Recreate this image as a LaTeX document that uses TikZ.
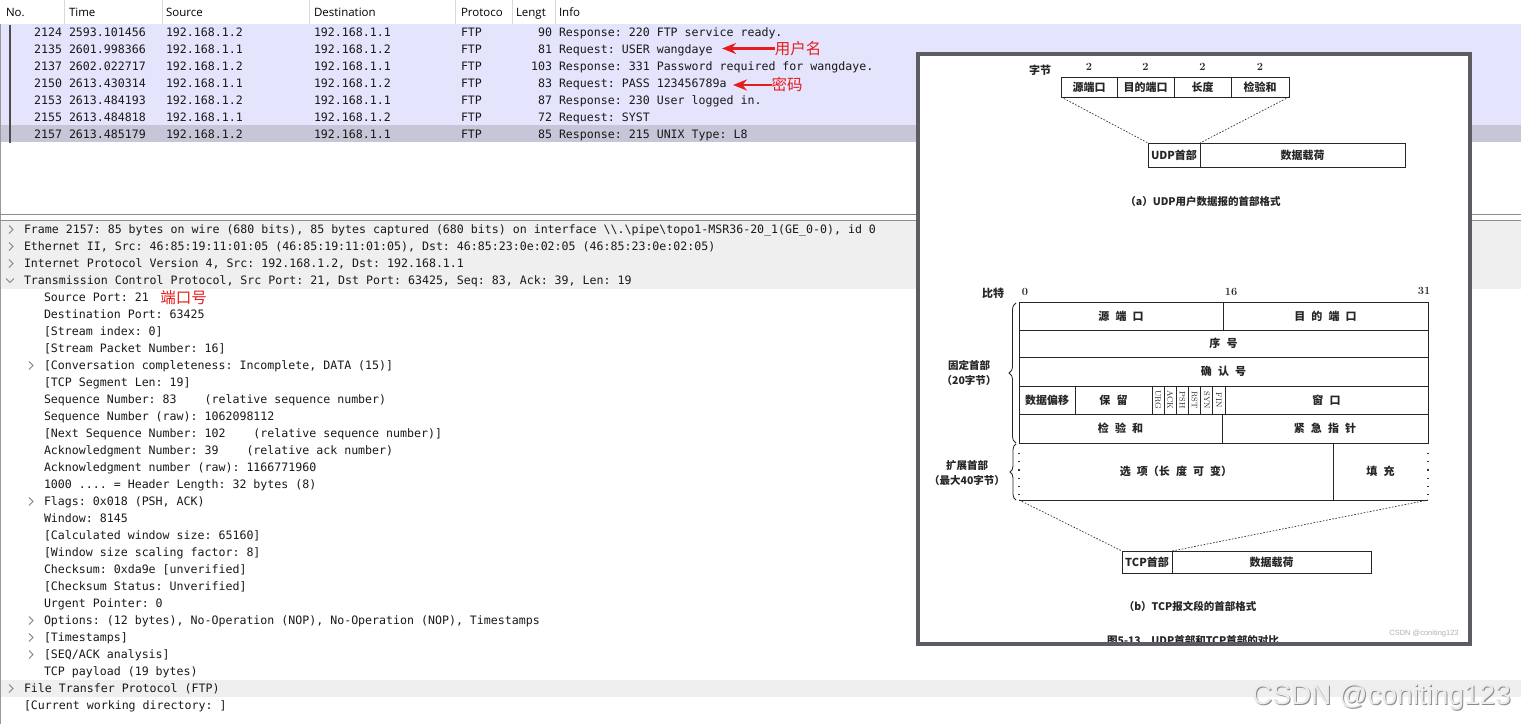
\documentclass[tikz,border=0pt]{standalone}
\usepackage{fontspec}
\usetikzlibrary{arrows.meta,decorations.pathreplacing}
\newfontfamily\monof{DejaVu Sans Mono}
\newfontfamily\uif{Open Sans}
\newfontfamily\cjk{Noto Sans CJK SC}
\newfontfamily\wmf{Liberation Sans}
\definecolor{rowbg}{RGB}{228,228,252}
\definecolor{selbg}{RGB}{198,198,216}
\definecolor{bandbg}{RGB}{239,239,239}
\definecolor{redc}{RGB}{232,28,28}
\definecolor{chevc}{RGB}{130,130,130}
\definecolor{insetc}{RGB}{92,92,98}
\definecolor{txt}{RGB}{25,25,25}
\frenchspacing
\newcommand\gp{\hspace{0.55em}}
\newcommand\dline[4]{\node[mono,name=#1] at (#2,{233.5+17*#3}) {#4};}
\newcommand\chevR[2]{\draw[chev] (#1,{229.5+17*#2-4}) -- ++(4,4) -- ++(-4,4);}
\newcommand\chevD[2]{\draw[chev] (#1,{229.5+17*#2-2}) -- ++(4,4) -- ++(4,-4);}
\begin{document}
\begin{tikzpicture}[x=1pt,y=-1pt,every node/.style={inner sep=0pt,outer sep=0pt},
  mono/.style={font=\monof\fontsize{11.6}{13}\selectfont\frenchspacing,text=txt,anchor=base west},
  monoR/.style={mono,anchor=base east},
  hdr/.style={font=\uif\fontsize{11.5}{13}\selectfont,text=black,anchor=base west},
  redlbl/.style={font=\cjk\fontsize{15.5}{17}\selectfont,text=redc},
  redarrow/.style={draw=redc,line width=2.6pt,-{Stealth[length=14pt,width=11pt]}},
  chev/.style={draw=chevc,line width=0.9pt},
  cell/.style={draw=black!85,line width=0.8pt,font=\cjk\bfseries\fontsize{11}{12}\selectfont,text=black!85},
  bare/.style={font=\cjk\bfseries\fontsize{11}{12}\selectfont,text=black!85},
  capt/.style={font=\cjk\bfseries\fontsize{10.5}{12}\selectfont,text=black!85},
  num/.style={font=\bfseries\fontsize{11}{12}\selectfont,text=black!85},
  flag/.style={draw=black!85,line width=0.8pt,font=\fontsize{8}{8}\selectfont,text=black!85,minimum width=12.17pt,minimum height=28pt},
  dashln/.style={draw=black!80,line width=0.7pt,dash pattern=on 1.6pt off 1.6pt},
  dotln/.style={draw=black!80,line width=1.2pt,dash pattern=on 1.2pt off 7pt}]
\useasboundingbox (0,0) rectangle (1521,724);
\fill[white] (0,0) rectangle (1521,724);
% ---------- packet list ----------
\fill[rowbg] (0,24) rectangle (1521,125);
\fill[selbg] (0,125) rectangle (1521,142);
\foreach \xx in {64,162,309,455,512,555} \draw[black!15] (\xx,0) -- (\xx,24);
\node[hdr] (hno) at (6,16.5) {No.};
\node[hdr] (htime) at (69,16.5) {Time};
\node[hdr] (hsrc) at (166,16.5) {Source};
\node[hdr] (hdst) at (314,16.5) {Destination};
\node[hdr] (hproto) at (461,16.5) {Protoco};
\node[hdr] (hlen) at (516,16.5) {Lengt};
\node[hdr] (hinfo) at (559,16.5) {Info};
\draw[black!40,line width=1pt] (0.5,24) -- (0.5,724);
\draw[black!70,line width=1.3pt] (10,25) -- (10,143);
\foreach \i/\no/\tm/\src/\dst/\len/\info in {
 0/2124/2593.101456/192.168.1.2/192.168.1.1/90/Response: 220 FTP service ready.,
 1/2135/2601.998366/192.168.1.1/192.168.1.2/81/Request: USER wangdaye,
 2/2137/2602.022717/192.168.1.2/192.168.1.1/103/Response: 331 Password required for wangdaye.,
 3/2150/2613.430314/192.168.1.1/192.168.1.2/83/Request: PASS 123456789a,
 4/2153/2613.484193/192.168.1.2/192.168.1.1/87/Response: 230 User logged in.,
 5/2155/2613.484818/192.168.1.1/192.168.1.2/72/Request: SYST,
 6/2157/2613.485179/192.168.1.2/192.168.1.1/85/Response: 215 UNIX Type: L8}{
  \node[monoR,name=pno\i] at (62,{36.5+17*\i}) {\no};
  \node[mono,name=ptm\i] at (69,{36.5+17*\i}) {\tm};
  \node[mono,name=psrc\i] at (166,{36.5+17*\i}) {\src};
  \node[mono,name=pdst\i] at (314,{36.5+17*\i}) {\dst};
  \node[mono,name=ppr\i] at (461,{36.5+17*\i}) {FTP};
  \node[monoR,name=plen\i] at (552,{36.5+17*\i}) {\len};
  \node[mono,name=pinf\i] at (559,{36.5+17*\i}) {\info};
}
% red annotations
\node[redlbl] (ulbl) at (798,48.5) {用户名};
\node[redlbl] (plbl) at (787,85) {密码};
\coordinate (tipA) at (722,48.5);
\coordinate (tipB) at (733,85);
\draw[redarrow] (ulbl.west) -- (tipA);
\draw[redarrow] (plbl.west) -- (tipB);
% ---------- splitter ----------
\draw[black!45] (0,214) -- (1521,214);
\draw[black!45] (0,220) -- (1521,220);
% ---------- details ----------
\fill[bandbg] (1,221) rectangle (1521,289);
\fill[bandbg] (1,680) rectangle (1521,697);
\chevR{9}{0}\chevR{9}{1}\chevR{9}{2}\chevD{6}{3}
\chevR{29}{8}\chevR{29}{16}\chevR{29}{23}\chevR{29}{24}\chevR{29}{25}\chevR{9}{27}
\dline{d0}{24}{0}{Frame 2157: 85 bytes on wire (680 bits), 85 bytes captured (680 bits) on interface \textbackslash\textbackslash.\textbackslash pipe\textbackslash topo1-MSR36-20\_1(GE\_0-0), id 0}
\dline{d1}{24}{1}{Ethernet II, Src: 46:85:19:11:01:05 (46:85:19:11:01:05), Dst: 46:85:23:0e:02:05 (46:85:23:0e:02:05)}
\dline{d2}{24}{2}{Internet Protocol Version 4, Src: 192.168.1.2, Dst: 192.168.1.1}
\dline{d3}{24}{3}{Transmission Control Protocol, Src Port: 21, Dst Port: 63425, Seq: 83, Ack: 39, Len: 19}
\dline{d4}{44}{4}{Source Port: 21}
\dline{d5}{44}{5}{Destination Port: 63425}
\dline{d6}{44}{6}{[Stream index: 0]}
\dline{d7}{44}{7}{[Stream Packet Number: 16]}
\dline{d8}{44}{8}{[Conversation completeness: Incomplete, DATA (15)]}
\dline{d9}{44}{9}{[TCP Segment Len: 19]}
\dline{d10}{44}{10}{Sequence Number: 83~~~~(relative sequence number)}
\dline{d11}{44}{11}{Sequence Number (raw): 1062098112}
\dline{d12}{44}{12}{[Next Sequence Number: 102~~~~(relative sequence number)]}
\dline{d13}{44}{13}{Acknowledgment Number: 39~~~~(relative ack number)}
\dline{d14}{44}{14}{Acknowledgment number (raw): 1166771960}
\dline{d15}{44}{15}{1000 .... = Header Length: 32 bytes (8)}
\dline{d16}{44}{16}{Flags: 0x018 (PSH, ACK)}
\dline{d17}{44}{17}{Window: 8145}
\dline{d18}{44}{18}{[Calculated window size: 65160]}
\dline{d19}{44}{19}{[Window size scaling factor: 8]}
\dline{d20}{44}{20}{Checksum: 0xda9e [unverified]}
\dline{d21}{44}{21}{[Checksum Status: Unverified]}
\dline{d22}{44}{22}{Urgent Pointer: 0}
\dline{d23}{44}{23}{Options: (12 bytes), No-Operation (NOP), No-Operation (NOP), Timestamps}
\dline{d24}{44}{24}{[Timestamps]}
\dline{d25}{44}{25}{[SEQ/ACK analysis]}
\dline{d26}{44}{26}{TCP payload (19 bytes)}
\dline{d27}{24}{27}{File Transfer Protocol (FTP)}
\dline{d28}{24}{28}{[Current working directory: ]}
\node[redlbl] (portlbl) at (183.5,298) {端口号};
% ---------- big watermark ----------
\node[font=\wmf\fontsize{28}{30}\selectfont,text=black!45] (wm2) at (1382.5,698) {CSDN @coniting123};
\node[font=\wmf\fontsize{28}{30}\selectfont,text={rgb,255:red,236;green,236;blue,236}] (wm1) at (1381.5,697) {CSDN @coniting123};
% ---------- inset figure ----------
\fill[white] (918,54) rectangle (1470,644);
% UDP
\node[bare] (zj) at (1040,70) {字节};
\node[num] (n2a) at (1089,67) {2};
\node[num] (n2b) at (1145.5,67) {2};
\node[num] (n2c) at (1202.5,67) {2};
\node[num] (n2d) at (1260,67) {2};
\node[cell,minimum width=56pt,minimum height=20pt] (usrc) at (1089,87) {源端口};
\node[cell,minimum width=57pt,minimum height=20pt] (udst) at (1145.5,87) {目的端口};
\node[cell,minimum width=57pt,minimum height=20pt] (ulen) at (1202.5,87) {长度};
\node[cell,minimum width=58pt,minimum height=20pt] (uchk) at (1260,87) {检验和};
\node[cell,minimum width=52pt,minimum height=24pt] (udph) at (1174,155) {UDP首部};
\node[cell,minimum width=205pt,minimum height=24pt] (udpd) at (1302.5,155) {数据载荷};
\draw[dashln] (usrc.south west) -- (udph.north west);
\draw[dashln] (uchk.south east) -- (udph.north east);
\node[capt] (capa) at (1203,201) {（a）UDP用户数据报的首部格式};
% TCP
\node[bare] (bt) at (993,293) {比特};
\node[num] (b0) at (1025,292) {0};
\node[num] (b16) at (1231,292) {16};
\node[num] (b31) at (1424,291) {31};
\node[cell,minimum width=204pt,minimum height=28pt] (tsrc) at (1121,316) {源\gp 端\gp 口};
\node[cell,minimum width=205pt,minimum height=28pt] (tdst) at (1325.5,316) {目\gp 的\gp 端\gp 口};
\node[cell,minimum width=409pt,minimum height=27pt] (tseq) at (1223.5,343.5) {序\gp 号};
\node[cell,minimum width=409pt,minimum height=29pt] (tack) at (1223.5,371.5) {确\gp 认\gp 号};
\node[cell,minimum width=56pt,minimum height=28pt] (toff) at (1047,400) {数据偏移};
\node[cell,minimum width=77pt,minimum height=28pt] (tres) at (1113.5,400) {保\gp 留};
\foreach \j/\f in {0/URG,1/ACK,2/PSH,3/RST,4/SYN,5/FIN}
  \node[flag,name=fl\j] at ({1158.08+12.17*\j},400) {\rotatebox{-90}{\f}};
\node[cell,minimum width=203pt,minimum height=28pt] (twin) at (1326.5,400) {窗\gp 口};
\node[cell,minimum width=203pt,minimum height=29pt] (tcks) at (1120.5,428.5) {检\gp 验\gp 和};
\node[cell,minimum width=206pt,minimum height=29pt] (turg) at (1325,428.5) {紧\gp 急\gp 指\gp 针};
\node[bare,minimum width=314pt,minimum height=57pt] (topt) at (1176,471.5) {选\gp 项（长\gp 度\gp 可\gp 变）};
\node[bare,minimum width=95pt,minimum height=57pt] (tpad) at (1380.5,471.5) {填\gp 充};
\draw[black!85,line width=0.8pt] (topt.north west) -- (tpad.north east);
\draw[black!85,line width=0.8pt] (topt.south west) -- (tpad.south east);
\draw[black!85,line width=0.8pt] (topt.north east) -- (topt.south east);
\draw[dotln] ([yshift=-10pt]topt.north west) -- (topt.south west);
\draw[dotln] ([yshift=-10pt]tpad.north east) -- (tpad.south east);
\draw[black!85,line width=0.8pt,decorate,decoration={brace,amplitude=7pt}] (1016,443) -- (1016,303);
\draw[black!85,line width=0.8pt,decorate,decoration={brace,amplitude=6pt}] (1016,500) -- (1016,444);
\node[bare,align=center,font=\cjk\bfseries\fontsize{10.5}{15}\selectfont] (fixlbl) at (969,373) {固定首部\\（20字节）};
\node[bare,align=center,font=\cjk\bfseries\fontsize{10.5}{15}\selectfont] (extlbl) at (967,473) {扩展首部\\（最大40字节）};
\node[cell,minimum width=50pt,minimum height=22pt] (tcph) at (1147,562) {TCP首部};
\node[cell,minimum width=199pt,minimum height=22pt] (tcpd) at (1271.5,562) {数据载荷};
\draw[dashln] (topt.south west) -- (tcph.north west);
\draw[dashln] (tpad.south east) -- (tcph.north east);
\node[capt] (capb) at (1190,606) {（b）TCP报文段的首部格式};
\node[font=\wmf\fontsize{7.5}{8}\selectfont,text=black!30] (wmsmall) at (1424,634) {CSDN @coniting123};
\begin{scope}
\clip (920,56) rectangle (1468,642);
\node[capt] (figcap) at (1193,640) {图5-13\quad UDP首部和TCP首部的对比};
\end{scope}
\draw[insetc,line width=4pt] (918,54) rectangle (1470,644);
\end{tikzpicture}
\end{document}
